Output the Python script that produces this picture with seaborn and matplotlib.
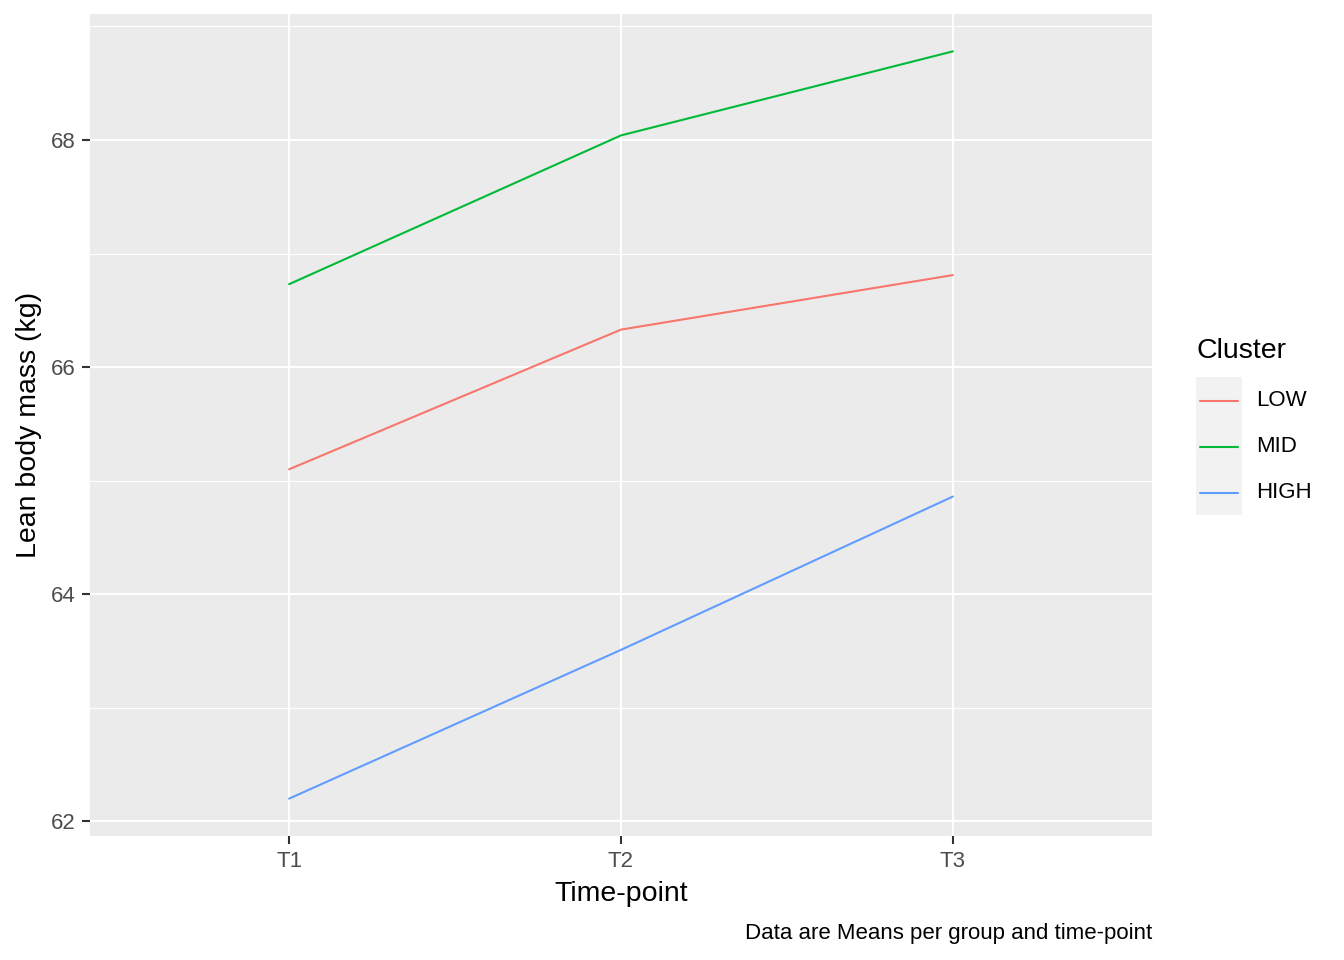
import numpy as np
import pandas as pd
import matplotlib
matplotlib.use("Agg")
import matplotlib.pyplot as plt
from matplotlib.lines import Line2D
from matplotlib.patches import Rectangle
import seaborn as sns

# means per cluster and time-point
timepoints = ["T1", "T2", "T3"]
clusters = ["LOW", "MID", "HIGH"]
low_means = [65.10, 66.33, 66.81]
mid_means = [66.73, 68.04, 68.78]
high_means = [62.20, 63.51, 64.86]
colors = ["#F8766D", "#00BA38", "#619CFF"]

df = pd.DataFrame({
    "Time": timepoints * 3,
    "Cluster": np.repeat(clusters, 3),
    "LBM": low_means + mid_means + high_means,
})

sns.set_theme(style="darkgrid")
plt.rcParams["font.family"] = ["Liberation Sans", "DejaVu Sans"]
plt.rcParams["text.color"] = "black"

fig = plt.figure(figsize=(13.44, 9.6), dpi=100)
ax = fig.add_axes([90 / 1344, 1 - 836 / 960, (1152 - 90) / 1344, (836 - 14) / 960])

sns.lineplot(data=df, x="Time", y="LBM", hue="Cluster", hue_order=clusters,
             palette=colors, linewidth=1.5, ax=ax, legend=False)

ax.set_facecolor("#EBEBEB")
ax.set_xlim(-0.6, 2.6)
lo, hi = df["LBM"].min(), df["LBM"].max()
pad = (hi - lo) * 0.05
ax.set_ylim(lo - pad, hi + pad)
ax.set_yticks([62, 64, 66, 68])
ax.set_yticks([63, 65, 67, 69], minor=True)
ax.grid(which="major", color="white", linewidth=1.5)
ax.grid(which="minor", color="white", linewidth=0.75)
for s in ax.spines.values():
    s.set_visible(False)
ax.tick_params(axis="both", which="major", length=6, width=1.5, color="#333333",
               labelsize=16, labelcolor="#4D4D4D", pad=4, bottom=True, left=True)
ax.tick_params(axis="x", pad=5)
ax.tick_params(which="minor", length=0)

ax.set_xlabel("Time-point", fontsize=20.5, color="black", labelpad=6)
ax.set_ylabel("Lean body mass (kg)", fontsize=20.5, color="black", labelpad=7)

fig.text(1152 / 1344, 1 - 934 / 960, "Data are Means per group and time-point",
         ha="right", va="center", fontsize=16, color="black")

# ggplot-like legend
fig.text(1197 / 1344, 1 - 351 / 960, "Cluster", ha="left", va="center", fontsize=20.5,
         color="black")
fig.patches.append(Rectangle((1196 / 1344, 1 - 515 / 960), 46 / 1344, 138 / 960,
                             transform=fig.transFigure, facecolor="#F2F2F2",
                             edgecolor="none"))
for i, (name, c) in enumerate(zip(clusters, colors)):
    yc = 1 - (401 + 46 * i) / 960
    fig.lines.append(Line2D([1200 / 1344, 1238 / 1344], [yc, yc], transform=fig.transFigure,
                            color=c, linewidth=1.5))
    fig.text(1256 / 1344, yc, name, ha="left", va="center", fontsize=16, color="black")

fig.savefig("out.png", dpi=100, facecolor="white")
